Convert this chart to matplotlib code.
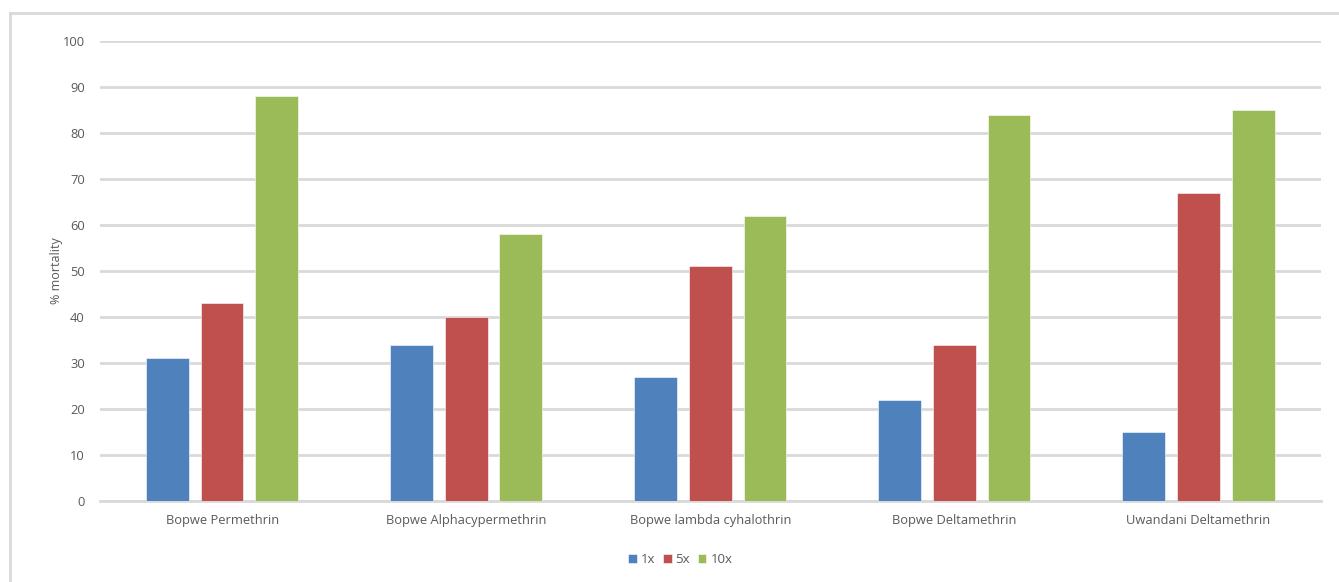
import matplotlib

matplotlib.use("Agg")
import matplotlib.pyplot as plt
import numpy as np
from matplotlib.lines import Line2D

# values
categories = [
    "Bopwe Permethrin",
    "Bopwe Alphacypermethrin",
    "Bopwe lambda cyhalothrin",
    "Bopwe Deltamethrin",
    "Uwandani Deltamethrin",
]
series_names = ["1x", "5x", "10x"]
mort_1x = [31, 34, 27, 22, 15]
mort_5x = [43, 40, 51, 34, 67]
mort_10x = [88, 58, 62, 84, 85]
y_ticks = list(range(0, 101, 10))

COLORS = ["#4f81bd", "#c0504d", "#9bbb59"]
TEXT = "#595959"
GRID = "#d9d9d9"

plt.rcParams["font.family"] = ["Open Sans", "DejaVu Sans"]

fig = plt.figure(figsize=(13.39, 5.82), dpi=100)
ax = fig.add_axes([0.0747, 0.139, 0.9115, 0.7906])

x = np.arange(len(categories))
width = 0.175
step = 0.224
for i, (name, vals) in enumerate(zip(series_names, [mort_1x, mort_5x, mort_10x])):
    ax.bar(x + (i - 1) * step, vals, width, color=COLORS[i], label=name,
           edgecolor="white", linewidth=0.4, zorder=3)

ax.set_xlim(-0.5, len(categories) - 0.5)
ax.set_ylim(0, 100)
ax.set_yticks(y_ticks)
ax.set_xticks(x)
ax.set_xticklabels(categories)
ax.tick_params(axis="both", length=0, colors=TEXT, labelsize=9.3)
ax.tick_params(axis="y", pad=11)
ax.tick_params(axis="x", pad=9)
ax.grid(axis="y", color=GRID, linewidth=2, zorder=0)
for side in ["top", "right", "left"]:
    ax.spines[side].set_visible(False)
ax.spines["bottom"].set_color(GRID)
ax.spines["bottom"].set_linewidth(2)
ax.set_ylabel("% mortality", color=TEXT, fontsize=9, labelpad=0)

leg = fig.legend(loc="center", bbox_to_anchor=(0.508, 0.038), ncol=3, frameon=False,
                 fontsize=9.5, handlelength=0.65, handleheight=0.65, handletextpad=0.3,
                 columnspacing=0.6, labelcolor=TEXT)

# light chart-area border (top and left visible)
fig.add_artist(Line2D([10 / 1339, 1], [1 - 13 / 582, 1 - 13 / 582], transform=fig.transFigure,
                      color=GRID, linewidth=2))
fig.add_artist(Line2D([10 / 1339, 10 / 1339], [0, 1 - 13 / 582], transform=fig.transFigure,
                      color=GRID, linewidth=2))

fig.savefig("out.png", dpi=100)
